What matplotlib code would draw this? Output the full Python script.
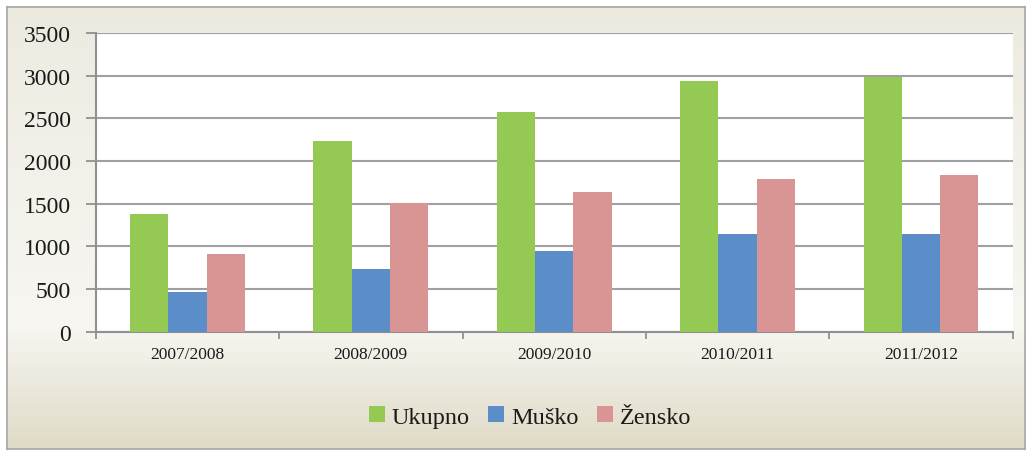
import numpy as np
import matplotlib
matplotlib.use("Agg")
import matplotlib.pyplot as plt
from matplotlib.colors import LinearSegmentedColormap

categories = ["2007/2008", "2008/2009", "2009/2010", "2010/2011", "2011/2012"]
series_names = ["Ukupno", "Muško", "Žensko"]
ukupno = [1380, 2240, 2580, 2935, 2990]
musko = [470, 740, 940, 1150, 1145]
zensko = [910, 1510, 1640, 1790, 1840]
colors = ["#94C954", "#5B8DC9", "#D99594"]
yticks = [0, 500, 1000, 1500, 2000, 2500, 3000, 3500]

W, H = 1029, 452
fig = plt.figure(figsize=(W / 100, H / 100), dpi=100)
fig.patch.set_facecolor("white")

# background gradient frame
bg = fig.add_axes([7 / W, 1 - 450 / H, (1025 - 7) / W, (450 - 8) / H], zorder=0)
cmap = LinearSegmentedColormap.from_list(
    "bg", [(0, "#ECE9DD"), (0.08, "#EEECE2"), (0.72, "#F7F6F1"), (1.0, "#DFDBC7")])
grad = np.linspace(0, 1, 256).reshape(-1, 1)
bg.imshow(grad, aspect="auto", cmap=cmap, extent=[0, 1, 1, 0])
bg.set_xlim(0, 1); bg.set_ylim(1, 0)
bg.set_xticks([]); bg.set_yticks([])
for s in bg.spines.values():
    s.set_color("#A6A6A6"); s.set_linewidth(1.2)

x0, x1 = 95.7, 1012.7
y0, y1 = 34, 332.7
ax = fig.add_axes([x0 / W, 1 - y1 / H, (x1 - x0) / W, (y1 - y0) / H], zorder=1)
ax.set_facecolor("white")

n = len(categories)
x = np.arange(n)
bw = 0.209
data = [ukupno, musko, zensko]
for i, (vals, c, name) in enumerate(zip(data, colors, series_names)):
    ax.bar(x + (i - 1) * bw, vals, width=bw, color=c, label=name, zorder=3,
           edgecolor="none")

ax.set_xlim(-0.5, n - 0.5)
ax.set_ylim(0, 3500)
ax.set_yticks(yticks)
ax.set_yticklabels([str(v) for v in yticks], fontsize=17, family="Liberation Serif",
                   color="#1A1A1A")
ax.yaxis.grid(True, color="#A0A0A4", linewidth=1.5, zorder=0)
ax.set_axisbelow(True)

ax.set_xticks(np.arange(-0.5, n, 1.0))
ax.set_xticklabels([])
ax.set_xticks(x, minor=True)
ax.set_xticklabels(categories, minor=True, fontsize=12.5, family="Liberation Serif",
                   color="#1A1A1A")
ax.tick_params(axis="x", which="minor", length=0, pad=10.5)
ax.tick_params(axis="x", which="major", length=5, width=1.3, color="#909090")
ax.tick_params(axis="y", length=7, width=1.3, color="#909090", pad=11)

for side in ["top", "right"]:
    ax.spines[side].set_visible(False)
for side in ["left", "bottom"]:
    ax.spines[side].set_color("#909090")
    ax.spines[side].set_linewidth(1.5)

leg = fig.legend(loc="center", bbox_to_anchor=(530 / W, 1 - 418 / H), ncol=3,
                 frameon=False, prop={"family": "Liberation Serif", "size": 17.5},
                 handlelength=0.65, handleheight=0.65, handletextpad=0.3,
                 columnspacing=0.75)
for t in leg.get_texts():
    t.set_color("#1A1A1A")

fig.savefig("out.png", dpi=100)
